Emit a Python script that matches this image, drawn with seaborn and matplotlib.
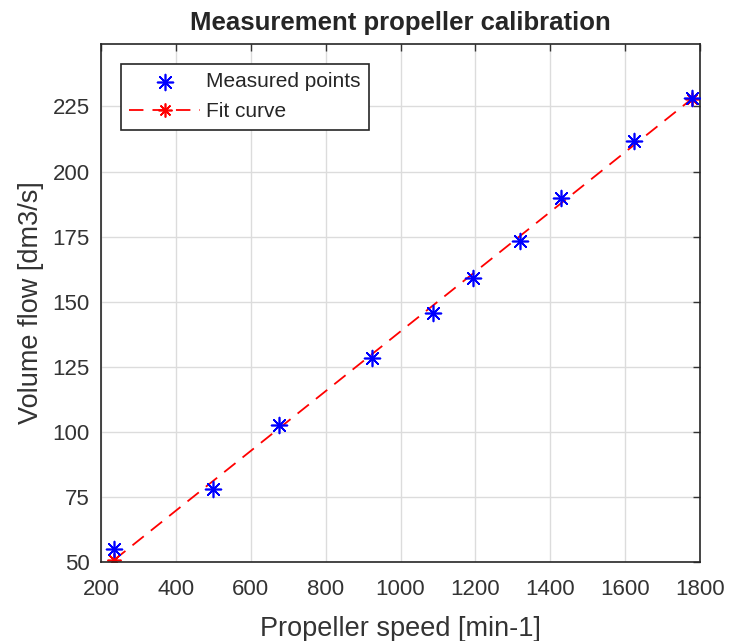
import matplotlib
matplotlib.use('Agg')
import matplotlib.pyplot as plt
import seaborn as sns
import pandas as pd

# measured calibration points
speed = [235, 499, 675, 923, 1087, 1193, 1319, 1429, 1625, 1779]
flow = [55, 78, 102.7, 128.2, 145.7, 159.1, 173.5, 190, 211.7, 228.1]

# linear fit, evaluated at the ends
fit_speed = [235, 1779]
fit_flow = [50.8, 228]

x_ticks = [200, 400, 600, 800, 1000, 1200, 1400, 1600, 1800]
y_ticks = [50, 75, 100, 125, 150, 175, 200, 225]

sns.set_style('white')
plt.rcParams['font.family'] = ['Liberation Sans', 'DejaVu Sans']

measured = pd.DataFrame({'speed': speed, 'flow': flow})
fit = pd.DataFrame({'speed': fit_speed, 'flow': fit_flow})

fig = plt.figure(figsize=(7.3, 6.41), dpi=100)
ax = fig.add_axes([0.1384, 0.1232, 0.8205, 0.8082])

asterisk = (8, 2, 0)
sns.scatterplot(data=measured, x='speed', y='flow', ax=ax, marker=asterisk,
                s=130, color='blue', linewidth=1.2, edgecolor='blue',
                label='Measured points', zorder=3)
sns.lineplot(data=fit, x='speed', y='flow', ax=ax, color='red',
             marker=asterisk, markersize=10, markeredgewidth=1.2,
             markeredgecolor='red', linewidth=1.3, linestyle=(0, (8, 5)),
             label='Fit curve', zorder=2)

ax.set_xlim(200, 1800)
ax.set_ylim(50, 249)
ax.set_xticks(x_ticks)
ax.set_yticks(y_ticks)
ax.grid(True, color='#dcdcdc', linewidth=1)
ax.set_axisbelow(True)
ax.tick_params(direction='in', length=5, width=1, colors='#333333',
               labelsize=16, top=True, right=True)
ax.tick_params(axis='y', pad=8)
ax.tick_params(axis='x', pad=12)
for s in ax.spines.values():
    s.set_color('#262626')
    s.set_linewidth(1.2)

ax.set_title('Measurement propeller calibration', fontsize=18.5,
             fontweight='bold', pad=10)
ax.set_xlabel('Propeller speed [min-1]', fontsize=19.5, color='#333333', labelpad=12)
ax.set_ylabel('Volume flow [dm3/s]', fontsize=19.5, color='#333333', labelpad=6)

leg = ax.legend(loc='upper left', bbox_to_anchor=(0.033, 0.962), fontsize=15,
                frameon=True, fancybox=False, framealpha=1, handlelength=3.4,
                handletextpad=0.3, borderpad=0.4, labelspacing=0.55,
                borderaxespad=0)
leg.get_frame().set_edgecolor('#262626')
leg.get_frame().set_linewidth(1.2)

fig.savefig('out.png', dpi=100)
